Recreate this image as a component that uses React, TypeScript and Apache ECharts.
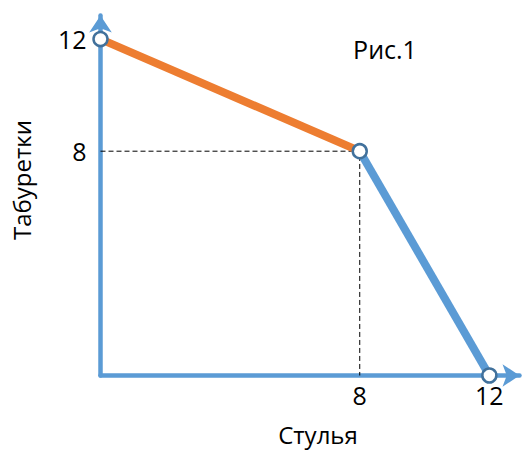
import React, { useEffect, useRef } from "react";
import * as echarts from "echarts";

const orangeSegment: [number, number][] = [[0, 12], [8, 8]];
const blueSegment: [number, number][] = [[8, 8], [12, 0]];
const guidePath: [number, number][] = [[0, 8], [8, 8], [8, 0]];
const keyPoints: [number, number][] = [[0, 12], [8, 8], [12, 0]];
const xTicks = [8, 12];
const yTicks = [8, 12];
const xName = "Стулья";
const yName = "Табуретки";
const figTitle = "Рис.1";

const FONT = "'Open Sans', sans-serif";
const AXIS_BLUE = "#5B9BD5";

export default function App() {
  const ref = useRef<HTMLDivElement>(null);
  useEffect(() => {
    if (!ref.current) return;
    const chart = echarts.init(ref.current, null, { renderer: "svg" });
    const axisCommon = {
      type: "value" as const,
      min: 0,
      splitLine: { show: false },
      axisTick: { show: false },
      axisLine: {
        show: true,
        onZero: false,
        symbol: ["none", "arrow"],
        symbolSize: [17, 17],
        lineStyle: { color: AXIS_BLUE, width: 4.5 },
      },
    };
    chart.setOption({
      animation: false,
      grid: { left: 100.5, top: 15.5, right: 9.5, bottom: 76.5, containLabel: false },
      xAxis: {
        ...axisCommon,
        max: 12.93,
        axisLabel: {
          customValues: xTicks,
          color: "#000",
          fontSize: 25,
          fontFamily: FONT,
          margin: 7,
        },
      },
      yAxis: {
        ...axisCommon,
        max: 12.84,
        axisLabel: {
          customValues: yTicks,
          color: "#000",
          fontSize: 25,
          fontFamily: FONT,
          margin: 14,
        },
      },
      graphic: [
        {
          type: "text",
          x: 318,
          y: 434,
          style: { text: xName, font: `24px ${FONT}`, fill: "#000", align: "center", verticalAlign: "middle" },
        },
        {
          type: "text",
          x: 21,
          y: 180,
          rotation: Math.PI / 2,
          style: { text: yName, font: `24px ${FONT}`, fill: "#000", align: "center", verticalAlign: "middle" },
        },
        {
          type: "text",
          x: 385,
          y: 49,
          style: { text: figTitle, font: `25px ${FONT}`, fill: "#000", align: "center", verticalAlign: "middle" },
        },
      ],
      series: [
        {
          type: "line",
          data: guidePath,
          showSymbol: false,
          symbol: "none",
          lineStyle: { color: "#000", width: 1, type: [5, 3] },
          z: 1,
        },
        {
          type: "line",
          data: orangeSegment,
          symbol: "none",
          lineStyle: { color: "#ED7D31", width: 8, cap: "butt" },
          z: 2,
        },
        {
          type: "line",
          data: blueSegment,
          symbol: "none",
          lineStyle: { color: AXIS_BLUE, width: 8, cap: "butt" },
          z: 2,
        },
        {
          type: "scatter",
          data: keyPoints,
          symbol: "circle",
          symbolSize: 14,
          itemStyle: { color: "#fff", opacity: 1, borderColor: "#41719C", borderWidth: 2.5 },
          z: 3,
        },
      ],
    });
    return () => chart.dispose();
  }, []);
  return (
    <div
      ref={ref}
      style={{ position: "absolute", left: 0, top: 0, width: 529, height: 452, background: "#fff" }}
    />
  );
}
